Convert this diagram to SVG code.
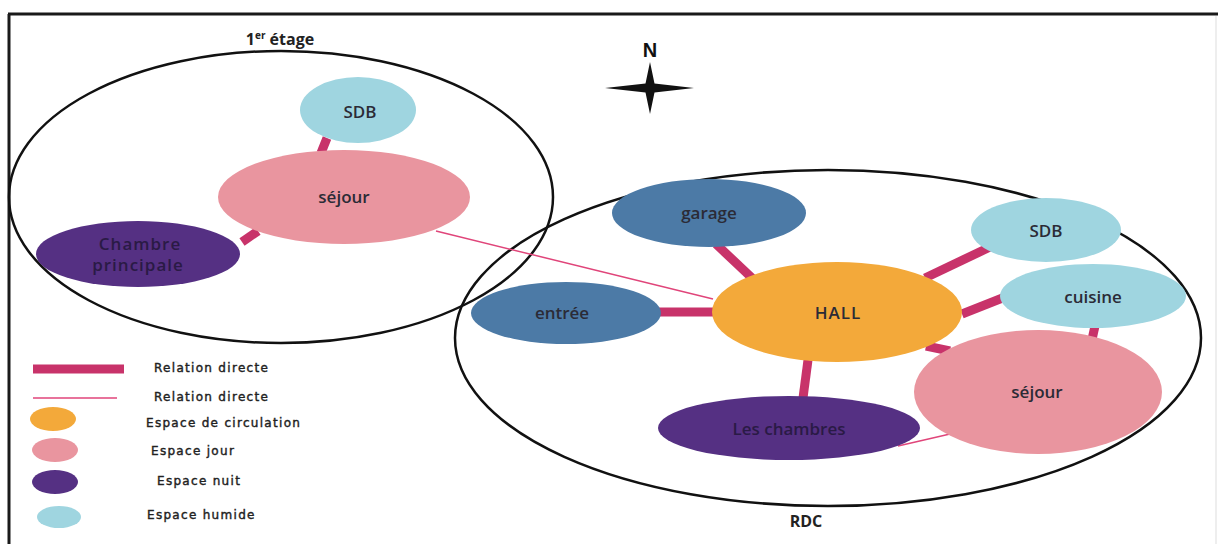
<svg xmlns="http://www.w3.org/2000/svg" width="1218" height="544" viewBox="0 0 1218 544">
  <style>
    .zone { fill: none; stroke: #111; stroke-width: 2.5; }
    .frame { fill: none; stroke: #1a1a1a; stroke-width: 3; }
    .link { stroke: #c8336a; stroke-width: 9; stroke-linecap: butt; }
    .thin { stroke: #e0457a; stroke-width: 1.5; }
    .lbl { font-family: "Open Sans", "Liberation Sans", sans-serif; font-size: 17px; fill: #2b2b36; text-anchor: middle; dominant-baseline: central; font-weight: 600; }
    .dark { fill: #2a1a45; }
    .title { font-family: "Open Sans", "Liberation Sans", sans-serif; font-size: 16px; font-weight: bold; fill: #222; text-anchor: middle; }
    .leg { font-family: "DejaVu Sans", sans-serif; font-size: 12px; letter-spacing: 1.3px; fill: #222; stroke: #222; stroke-width: 0.4; dominant-baseline: central; }
    .jour { fill: #e9959f; }
    .circ { fill: #f3a93a; }
    .nuit { fill: #553083; }
    .humide { fill: #9fd5e0; }
    .acces { fill: #4c7aa6; }
  </style>

  <rect width="1218" height="544" fill="#fff"/>
  <!-- page frame -->
  <path class="frame" d="M8 14 H1218 M9 14 V544"/>
  <line x1="1216" y1="16" x2="1216" y2="544" stroke="#ddd" stroke-width="1"/>

  <!-- floor zones -->
  <g id="zone-etage">
    <ellipse class="zone" cx="281" cy="197" rx="272" ry="146"/>
    <text class="title" x="280" y="45">1<tspan font-size="10" dy="-6">er</tspan><tspan dy="6"> étage</tspan></text>
  </g>
  <g id="zone-rdc">
    <ellipse class="zone" cx="828" cy="338" rx="373" ry="168"/>
    <text class="title" x="806" y="527">RDC</text>
  </g>

  <!-- compass -->
  <g id="compass">
    <text x="650" y="57" font-family="Liberation Sans, sans-serif" font-size="20" font-weight="bold" fill="#111" text-anchor="middle">N</text>
    <path d="M650 62 L654.5 83.5 L694 88 L654.5 92.5 L650 114 L645.5 92.5 L605 88 L645.5 83.5 Z" fill="#111"/>
  </g>

  <!-- connectors -->
  <g id="connectors">
    <line class="thin" x1="436" y1="231" x2="713" y2="299"/>
    <line class="thin" x1="898" y1="446" x2="950" y2="434"/>
    <line class="link" x1="327" y1="138" x2="321" y2="153"/>
    <line class="link" x1="258" y1="231" x2="242" y2="242"/>
    <line class="link" x1="716" y1="244" x2="752" y2="278"/>
    <line class="link" x1="990" y1="247" x2="925" y2="278"/>
    <line class="link" x1="1005" y1="297" x2="962" y2="314"/>
    <line class="link" x1="658" y1="312" x2="714" y2="312"/>
    <line class="link" x1="926" y1="346" x2="950" y2="351"/>
    <line class="link" x1="808" y1="360" x2="803" y2="398"/>
    <line class="link" x1="1095" y1="326" x2="1091" y2="344"/>
  </g>

  <!-- 1er étage -->
  <g id="sdb-etage">
    <ellipse class="humide" cx="358" cy="110" rx="58" ry="33"/>
    <text class="lbl" x="360" y="111">SDB</text>
  </g>
  <g id="sejour-etage">
    <ellipse class="jour" cx="344" cy="197" rx="126" ry="47"/>
    <text class="lbl" x="344" y="196">séjour</text>
  </g>
  <g id="chambre-principale">
    <ellipse class="nuit" cx="138" cy="254" rx="102" ry="33"/>
    <text class="lbl dark" x="140" y="243" font-size="15" letter-spacing="1">Chambre</text>
    <text class="lbl dark" x="138" y="264" font-size="15" letter-spacing="1">principale</text>
  </g>

  <!-- RDC -->
  <g id="garage">
    <ellipse class="acces" cx="709" cy="213" rx="97" ry="34"/>
    <text class="lbl" x="709" y="212">garage</text>
  </g>
  <g id="sdb-rdc">
    <ellipse class="humide" cx="1046" cy="230" rx="75" ry="32"/>
    <text class="lbl" x="1046" y="230">SDB</text>
  </g>
  <g id="cuisine">
    <ellipse class="humide" cx="1093" cy="296" rx="93" ry="32"/>
    <text class="lbl" x="1093" y="296">cuisine</text>
  </g>
  <g id="entree">
    <ellipse class="acces" cx="566" cy="313" rx="95" ry="31"/>
    <text class="lbl" x="562" y="312">entrée</text>
  </g>
  <g id="hall">
    <ellipse class="circ" cx="837" cy="312" rx="125" ry="50"/>
    <text class="lbl" x="838" y="312" font-size="22" letter-spacing="1">HALL</text>
  </g>
  <g id="sejour-rdc">
    <ellipse class="jour" cx="1038" cy="392" rx="124" ry="62"/>
    <text class="lbl" x="1037" y="391">séjour</text>
  </g>
  <g id="les-chambres">
    <ellipse class="nuit" cx="789" cy="428" rx="131" ry="32"/>
    <text class="lbl dark" x="789" y="428">Les chambres</text>
  </g>

  <!-- legend -->
  <g id="legend">
    <line class="link" x1="33" y1="369" x2="124" y2="369" stroke-width="7"/>
    <line class="thin" x1="33" y1="398" x2="117" y2="398"/>
    <ellipse class="circ" cx="53" cy="419" rx="23" ry="12"/>
    <ellipse class="jour" cx="55" cy="450" rx="23" ry="12"/>
    <ellipse class="nuit" cx="55" cy="482" rx="23" ry="12"/>
    <ellipse class="humide" cx="59" cy="517" rx="22" ry="11"/>
    <text class="leg" x="154" y="368">Relation directe</text>
    <text class="leg" x="154" y="397">Relation directe</text>
    <text class="leg" x="146" y="423">Espace de circulation</text>
    <text class="leg" x="151" y="451">Espace jour</text>
    <text class="leg" x="157" y="481">Espace nuit</text>
    <text class="leg" x="147" y="515">Espace humide</text>
  </g>
</svg>
